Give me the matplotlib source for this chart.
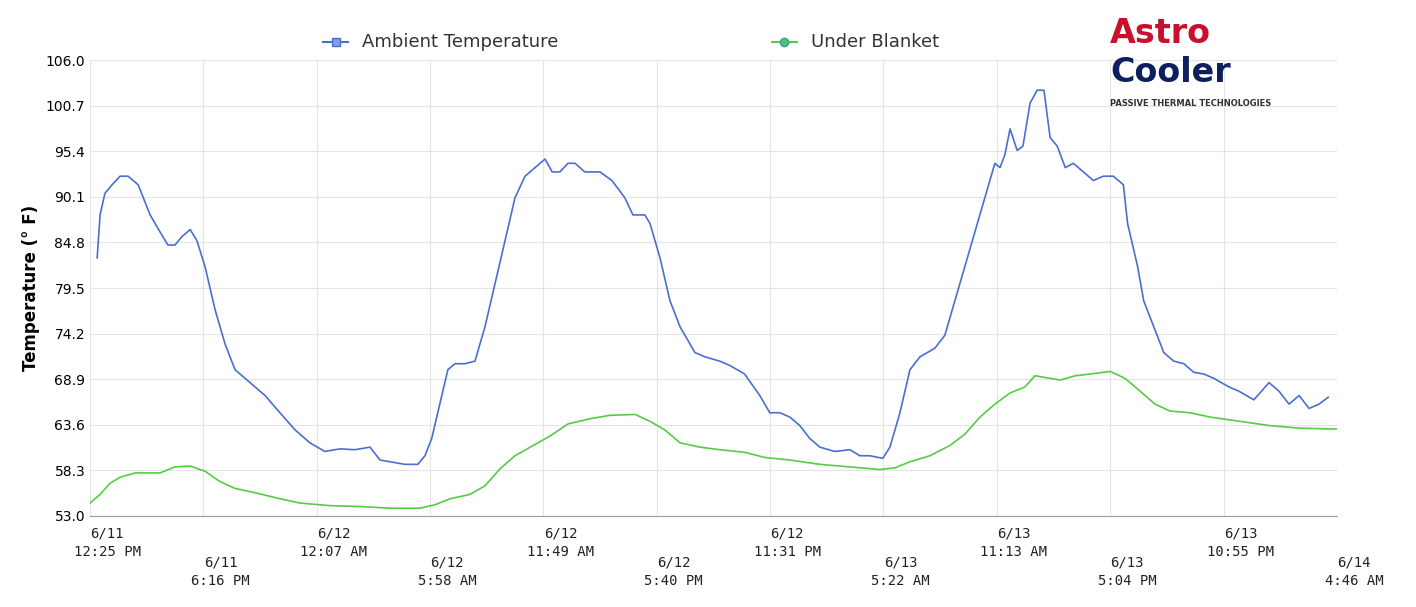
import matplotlib
matplotlib.use("Agg")
import matplotlib.pyplot as plt
import numpy as np

tick_labels = ["6/11\n12:25 PM","6/11\n6:16 PM","6/12\n12:07 AM","6/12\n5:58 AM","6/12\n11:49 AM",
               "6/12\n5:40 PM","6/12\n11:31 PM","6/13\n5:22 AM","6/13\n11:13 AM","6/13\n5:04 PM",
               "6/13\n10:55 PM","6/14\n4:46 AM"]
y_ticks = [53.0,58.3,63.6,68.9,74.2,79.5,84.8,90.1,95.4,100.7,106.0]

# time in minutes since 6/11 12:25 PM (one tick interval = 351 min)
amb_min = [22,31,46,68,93,118,149,186,217,241,263,285,310,331,356,387,418,449,480,511,542,588,635,681,727,774,820,867,898,944,975,1015,1037,1058,1083,1108,1130,1161,1192,1223,1254,1285,1316,1347,1378,1409,1431,1455,1480,1502,1532,1579,1616,1656,1681,1718,1734,1765,1796,1827,1873,1904,1950,1981,2027,2074,2105,2136,2167,2198,2229,2260,2306,2353,2384,2415,2455,2477,2508,2539,2570,2616,2647,2678,2709,2740,2771,2802,2818,2833,2849,2871,2889,2911,2933,2954,2973,2995,3020,3045,3076,3107,3138,3169,3200,3213,3244,3263,3294,3325,3356,3387,3418,3449,3480,3527,3558,3604,3651,3682,3713,3744,3775,3806,3834,3861]
amb_v = [83,88,90.5,91.5,92.5,92.5,91.5,88,86,84.5,84.5,85.5,86.3,85,82,77,73,70,69,68,67,65,63,61.5,60.5,60.8,60.7,61,59.5,59.2,59,59,60,62,66,70,70.7,70.7,71,75,80,85,90,92.5,93.5,94.5,93,93,94,94,93,93,92,90,88,88,87,83,78,75,72,71.5,71,70.5,69.5,67,65,65,64.5,63.5,62,61,60.5,60.7,60,60,59.7,61,65,70,71.5,72.5,74,78,82,86,90,94,93.5,95,98,95.5,96,101,102.5,102.5,97,96,93.5,94,93,92,92.5,92.5,91.5,87,82,78,75,72,71,70.7,69.7,69.5,69,68,67.5,66.5,68.5,67.5,66,67,65.5,66,66.8]

ub_min = [0,31,62,93,140,217,263,310,356,402,449,511,588,650,743,836,929,1022,1068,1115,1176,1223,1270,1316,1363,1425,1480,1548,1610,1688,1734,1780,1827,1889,1950,2027,2089,2167,2260,2353,2446,2493,2539,2601,2663,2709,2756,2802,2849,2895,2926,2973,3004,3051,3097,3159,3205,3252,3298,3344,3406,3468,3561,3654,3747,3861]
ub_v = [54.5,55.5,56.8,57.5,58,58,58.7,58.8,58.2,57,56.2,55.7,55,54.5,54.2,54.1,53.9,53.9,54.3,55,55.5,56.5,58.5,60,61,62.3,63.7,64.3,64.7,64.8,64,63,61.5,61,60.7,60.4,59.8,59.5,59,58.7,58.4,58.6,59.3,60,61.2,62.5,64.5,66,67.3,68,69.3,69,68.8,69.3,69.5,69.8,69,67.5,66,65.2,65,64.5,64,63.5,63.2,63.1]

n = min(len(amb_min), len(amb_v)); amb_min, amb_v = amb_min[:n], amb_v[:n]
n = min(len(ub_min), len(ub_v)); ub_min, ub_v = ub_min[:n], ub_v[:n]
STEP = 351

fig = plt.figure(figsize=(14.16,6.07), dpi=100)
ax = fig.add_axes([0.0636,0.150,0.8805,0.751])
ax.plot(np.array(amb_min)/STEP, amb_v, color="#4a6fd0", lw=1.2)
ax.plot(np.array(ub_min)/STEP, ub_v, color="#55cc44", lw=1.2)
ax.set_xlim(0,11); ax.set_ylim(53,106)
ax.set_yticks(y_ticks); ax.set_yticklabels([f"{v:.1f}" for v in y_ticks], fontsize=10)
ax.set_xticks(range(12)); ax.set_xticklabels([])
for i,l in enumerate(tick_labels):
    ax.text(i + 0.15, 53-(1.2 if i%2==0 else 4.6), l, ha="center", va="top", fontsize=10,
            linespacing=1.4, family="DejaVu Sans Mono", color="#222222")
ax.grid(True, color="#e4e4e4", lw=0.8)
for s in ax.spines.values(): s.set_visible(False)
ax.spines["bottom"].set_visible(True); ax.spines["bottom"].set_color("#999999")
ax.tick_params(length=0)
ax.set_ylabel("Temperature (° F)", fontsize=12, fontweight="bold")
# legend
fig.add_artist(plt.Line2D([0.228,0.246],[0.93,0.93], transform=fig.transFigure, color="#4a6fd0"))
fig.add_artist(plt.Line2D([0.237],[0.93], transform=fig.transFigure, color="#4a6fd0", marker="s", markersize=6, markerfacecolor="#7d9ee8"))
fig.text(0.256,0.93,"Ambient Temperature", fontsize=13, va="center", color="#333333")
fig.add_artist(plt.Line2D([0.545,0.563],[0.93,0.93], transform=fig.transFigure, color="#55cc44"))
fig.add_artist(plt.Line2D([0.554],[0.93], transform=fig.transFigure, color="#33aa77", marker="o", markersize=6, markerfacecolor="#55bb88"))
fig.text(0.573,0.93,"Under Blanket", fontsize=13, va="center", color="#333333")
# logo
fig.text(0.784,0.945,"Astro", fontsize=24, fontweight="bold", color="#c8102e", va="center")
fig.text(0.784,0.88,"Cooler", fontsize=24, fontweight="bold", color="#0d1f5c", va="center")
fig.text(0.784,0.83,"PASSIVE THERMAL TECHNOLOGIES", fontsize=6, fontweight="bold", color="#333333", va="center")
fig.savefig("out.png", dpi=100, facecolor="white")
